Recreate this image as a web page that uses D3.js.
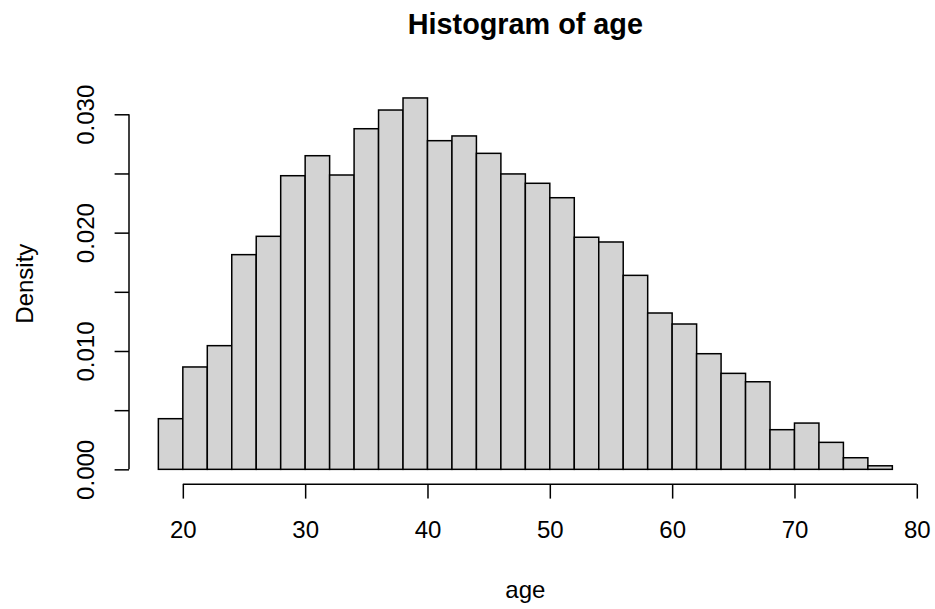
<!DOCTYPE html>
<html>
<head>
<meta charset="utf-8">
<script src="https://cdn.jsdelivr.net/npm/d3@7"></script>
<style>
  html, body { margin: 0; padding: 0; background: #ffffff; }
  svg { display: block; }
  text { font-family: "Liberation Sans", Arial, Helvetica, sans-serif; fill: #000; }
</style>
</head>
<body>
<svg id="chart" width="935" height="609"></svg>
<script>
// Histogram of age: bin edges (width 2) and density of each bin
const breaks = [18, 20, 22, 24, 26, 28, 30, 32, 34, 36, 38, 40, 42, 44, 46, 48,
                50, 52, 54, 56, 58, 60, 62, 64, 66, 68, 70, 72, 74, 76, 78];
const densities = [0.00428, 0.00865, 0.01045, 0.01814, 0.01969, 0.02481, 0.02650,
                   0.02487, 0.02878, 0.03036, 0.03138, 0.02777, 0.02817, 0.02670,
                   0.02496, 0.02417, 0.02295, 0.01961, 0.01921, 0.01639, 0.01321,
                   0.01228, 0.00977, 0.00811, 0.00740, 0.00335, 0.00391, 0.00228,
                   0.00098, 0.00030];
const xTicks = [20, 30, 40, 50, 60, 70, 80];
const yTicks = [0, 0.005, 0.010, 0.015, 0.020, 0.025, 0.030];
// labels that fit along the vertical axis (the others stay unlabelled)
const yTickLabels = ["0.000", "", "0.010", "", "0.020", "", "0.030"];
const titleText = "Histogram of age";
const xLabel = "age";
const yLabel = "Density";

const svg = d3.select("#chart");

// plot region (pixels)
const plot = { left: 129, right: 921.7, top: 83.1, bottom: 484.2 };
const fontSize = 24;
const tickLen = 14.4;
const lw = 1.5;

// base-graphics style 4% padding around the data range
const xMin = breaks[0], xMax = breaks[breaks.length - 1];
const xPad = 0.04 * (xMax - xMin);
const yMax = d3.max(densities);
const yPad = 0.04 * yMax;

const x = d3.scaleLinear().domain([xMin - xPad, xMax + xPad]).range([plot.left, plot.right]);
const y = d3.scaleLinear().domain([-yPad, yMax + yPad]).range([plot.bottom, plot.top]);

const bins = densities.map((d, i) => ({ x0: breaks[i], x1: breaks[i + 1], d }));

// bars
svg.append("g")
  .selectAll("rect")
  .data(bins)
  .join("rect")
  .attr("x", b => x(b.x0))
  .attr("y", b => y(b.d))
  .attr("width", b => x(b.x1) - x(b.x0))
  .attr("height", b => y(0) - y(b.d))
  .attr("fill", "#d3d3d3")
  .attr("stroke", "#000")
  .attr("stroke-width", lw);

// x axis
const gx = svg.append("g")
  .attr("transform", `translate(0,${plot.bottom})`)
  .call(d3.axisBottom(x).tickValues(xTicks).tickFormat(d3.format("d"))
        .tickSize(tickLen).tickSizeOuter(0));
gx.select(".domain").remove();
gx.append("line")
  .attr("x1", x(xTicks[0])).attr("x2", x(xTicks[xTicks.length - 1]))
  .attr("y1", 0).attr("y2", 0)
  .attr("stroke", "#000").attr("stroke-width", lw);
gx.selectAll(".tick line").attr("stroke", "#000").attr("stroke-width", lw);
gx.selectAll(".tick text")
  .attr("y", 54.1).attr("dy", null)
  .attr("font-size", fontSize)
  .attr("font-family", "Liberation Sans, Arial, sans-serif")
  .attr("fill", "#000");

// y axis
const gy = svg.append("g")
  .attr("transform", `translate(${plot.left},0)`)
  .call(d3.axisLeft(y).tickValues(yTicks)
        .tickFormat((d, i) => yTickLabels[i])
        .tickSize(tickLen).tickSizeOuter(0));
gy.select(".domain").remove();
gy.append("line")
  .attr("x1", 0).attr("x2", 0)
  .attr("y1", y(yTicks[0])).attr("y2", y(yTicks[yTicks.length - 1]))
  .attr("stroke", "#000").attr("stroke-width", lw);
gy.selectAll(".tick line").attr("stroke", "#000").attr("stroke-width", lw);
gy.selectAll(".tick text")
  .attr("x", null).attr("dy", null)
  .attr("transform", "translate(-35.5,0) rotate(-90)")
  .attr("text-anchor", "middle")
  .attr("font-size", fontSize)
  .attr("font-family", "Liberation Sans, Arial, sans-serif")
  .attr("fill", "#000");

// title and axis titles
const cx = (plot.left + plot.right) / 2;
svg.append("text")
  .attr("x", cx).attr("y", 33.5)
  .attr("text-anchor", "middle")
  .attr("font-size", 28.8)
  .attr("font-weight", "bold")
  .text(titleText);

svg.append("text")
  .attr("x", cx).attr("y", 597.5)
  .attr("text-anchor", "middle")
  .attr("font-size", fontSize)
  .text(xLabel);

svg.append("text")
  .attr("transform", `translate(32.5,${(plot.top + plot.bottom) / 2}) rotate(-90)`)
  .attr("text-anchor", "middle")
  .attr("font-size", fontSize)
  .text(yLabel);
</script>
</body>
</html>
